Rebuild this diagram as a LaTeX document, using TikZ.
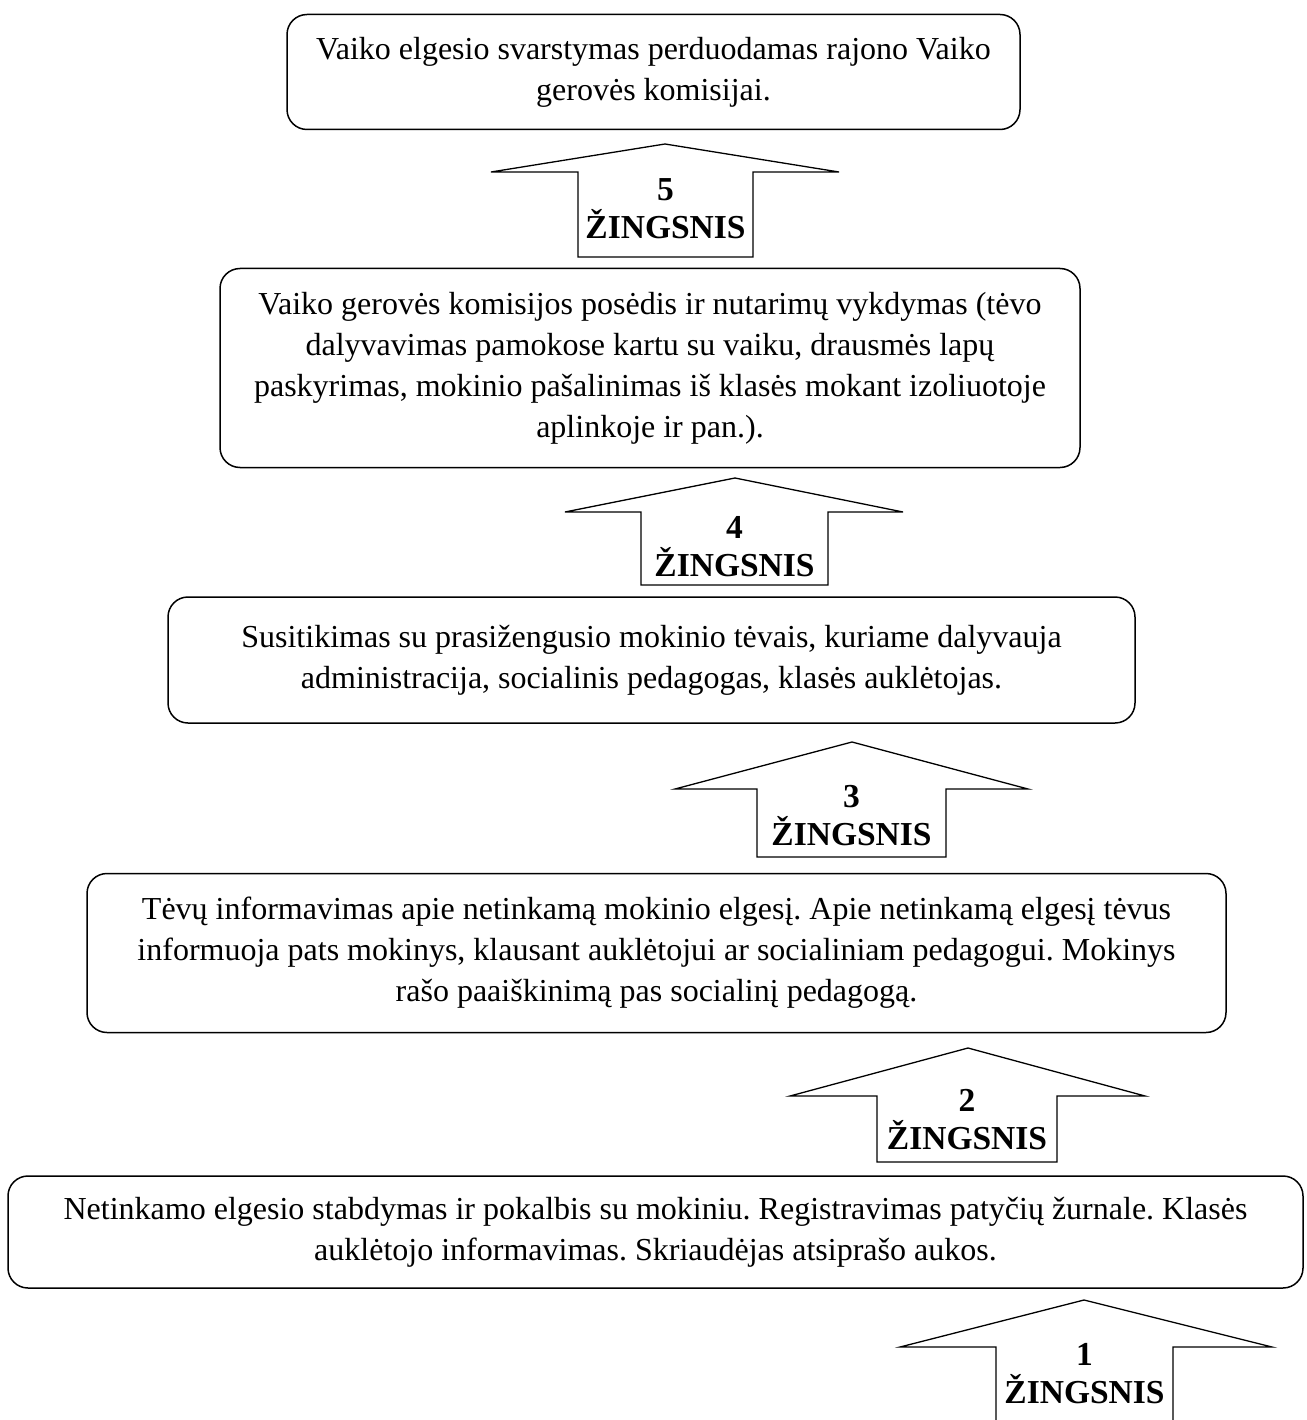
\documentclass[tikz,border=0pt]{standalone}
\usepackage{fontspec}
\setmainfont{Liberation Serif}
\frenchspacing
\begin{document}
\begin{tikzpicture}[x=1pt,y=-1pt,
  stepbox/.style={draw, line width=1.5pt, rounded corners=20pt, align=center, inner sep=0pt,
    font=\fontsize{32}{41}\selectfont},
  blockarrow/.style={draw, line width=1.3pt, fill=white, line join=miter},
  steplabel/.style={align=center, inner sep=0pt, font=\fontsize{33.5}{38}\selectfont\bfseries}]
\useasboundingbox (0,0) rectangle (1306,1420);
% boxes
\node[stepbox, minimum width=733pt, minimum height=115pt] (b5) at (653.5,72)
  {Vaiko elgesio svarstymas perduodamas rajono Vaiko\\gerovės komisijai.};
\node[stepbox, minimum width=860pt, minimum height=199pt] (b4) at (650,368)
  {Vaiko gerovės komisijos posėdis ir nutarimų vykdymas (tėvo\\dalyvavimas pamokose kartu su vaiku, drausmės lapų\\paskyrimas, mokinio pašalinimas iš klasės mokant izoliuotoje\\aplinkoje ir pan.).};
\node[stepbox, minimum width=967pt, minimum height=126pt] (b3) at (651.5,660)
  {Susitikimas su prasižengusio mokinio tėvais, kuriame dalyvauja\\administracija, socialinis pedagogas, klasės auklėtojas.};
\node[stepbox, minimum width=1139pt, minimum height=159pt] (b2) at (656.5,953)
  {Tėvų informavimas apie netinkamą mokinio elgesį. Apie netinkamą elgesį tėvus\\informuoja pats mokinys, klausant auklėtojui ar socialiniam pedagogui. Mokinys\\rašo paaiškinimą pas socialinį pedagogą.};
\node[stepbox, minimum width=1295pt, minimum height=112pt] (b1) at (655.5,1232)
  {Netinkamo elgesio stabdymas ir pokalbis su mokiniu. Registravimas patyčių žurnale. Klasės\\auklėtojo informavimas. Skriaudėjas atsiprašo aukos.};
% block arrows
\draw[blockarrow] (491,172) -- (665,144) -- (839,172) -- (753,172) -- (753,257) -- (578,257) -- (578,172) -- cycle;
\node[steplabel] (a5) at (665.5,209) {5\\ŽINGSNIS};
\draw[blockarrow] (565,512) -- (735,478) -- (903,512) -- (828,512) -- (828,585) -- (641,585) -- (641,512) -- cycle;
\node[steplabel] (a4) at (734.5,547) {4\\ŽINGSNIS};
\draw[blockarrow] (675,789) -- (852,742) -- (1028,789) -- (946,789) -- (946,857) -- (757,857) -- (757,789) -- cycle;
\node[steplabel] (a3) at (851.5,816) {3\\ŽINGSNIS};
\draw[blockarrow] (790,1096) -- (968,1048) -- (1145,1096) -- (1057,1096) -- (1057,1162) -- (877,1162) -- (877,1096) -- cycle;
\node[steplabel] (a2) at (967,1120) {2\\ŽINGSNIS};
\draw[blockarrow] (996,1430) -- (996,1347) -- (900,1347) -- (1084,1300) -- (1272,1347) -- (1173,1347) -- (1173,1430);
\node[steplabel] (a1) at (1084.5,1374) {1\\ŽINGSNIS};
\end{tikzpicture}
\end{document}
